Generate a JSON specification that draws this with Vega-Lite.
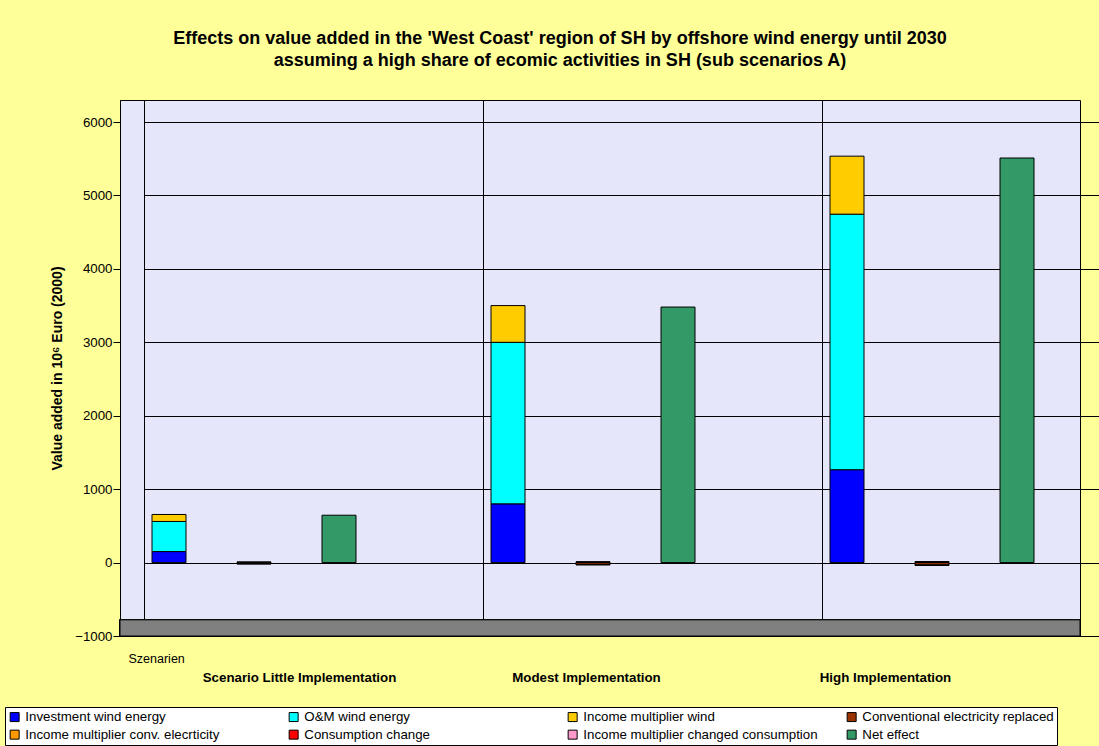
{
  "$schema": "https://vega.github.io/schema/vega-lite/v6.json",
  "width": 960,
  "height": 536,
  "autosize": "none",
  "padding": {"left": 120, "top": 100, "right": 19, "bottom": 110},
  "background": "#FFFF99",
  "config": {
    "font": "Liberation Sans",
    "view": {"stroke": "black", "strokeWidth": 1, "fill": "#E6E6FA"}
  },
  "title": {
    "text": ["Effects on value added in the 'West Coast' region of SH by offshore wind energy until 2030", "assuming a high share of ecomic activities in SH (sub scenarios A)"],
    "fontSize": 18,
    "fontWeight": "bold",
    "font": "Liberation Sans",
    "color": "black",
    "anchor": "middle",
    "dx": -40,
    "offset": 30,
    "lineHeight": 22
  },
  "data": {
    "values": [
      {"scenario": "Scenario Little Implementation", "column": "stack", "component": "Investment wind energy", "idx": 1, "value": 150},
      {"scenario": "Scenario Little Implementation", "column": "stack", "component": "O&M wind energy", "idx": 2, "value": 410},
      {"scenario": "Scenario Little Implementation", "column": "stack", "component": "Income multiplier wind", "idx": 3, "value": 95},
      {"scenario": "Scenario Little Implementation", "column": "neg", "component": "Conventional electricity replaced", "idx": 4, "value": -15},
      {"scenario": "Scenario Little Implementation", "column": "neg", "component": "Income multiplier conv. elecrticity", "idx": 5, "value": -5},
      {"scenario": "Scenario Little Implementation", "column": "neg", "component": "Consumption change", "idx": 6, "value": 5},
      {"scenario": "Scenario Little Implementation", "column": "neg", "component": "Income multiplier changed consumption", "idx": 7, "value": 2},
      {"scenario": "Scenario Little Implementation", "column": "net", "component": "Net effect", "idx": 8, "value": 645},
      {"scenario": "Modest Implementation", "column": "stack", "component": "Investment wind energy", "idx": 1, "value": 800},
      {"scenario": "Modest Implementation", "column": "stack", "component": "O&M wind energy", "idx": 2, "value": 2200},
      {"scenario": "Modest Implementation", "column": "stack", "component": "Income multiplier wind", "idx": 3, "value": 500},
      {"scenario": "Modest Implementation", "column": "neg", "component": "Conventional electricity replaced", "idx": 4, "value": -25},
      {"scenario": "Modest Implementation", "column": "neg", "component": "Income multiplier conv. elecrticity", "idx": 5, "value": -8},
      {"scenario": "Modest Implementation", "column": "neg", "component": "Consumption change", "idx": 6, "value": 8},
      {"scenario": "Modest Implementation", "column": "neg", "component": "Income multiplier changed consumption", "idx": 7, "value": 3},
      {"scenario": "Modest Implementation", "column": "net", "component": "Net effect", "idx": 8, "value": 3480},
      {"scenario": "High Implementation", "column": "stack", "component": "Investment wind energy", "idx": 1, "value": 1265},
      {"scenario": "High Implementation", "column": "stack", "component": "O&M wind energy", "idx": 2, "value": 3480},
      {"scenario": "High Implementation", "column": "stack", "component": "Income multiplier wind", "idx": 3, "value": 790},
      {"scenario": "High Implementation", "column": "neg", "component": "Conventional electricity replaced", "idx": 4, "value": -30},
      {"scenario": "High Implementation", "column": "neg", "component": "Income multiplier conv. elecrticity", "idx": 5, "value": -10},
      {"scenario": "High Implementation", "column": "neg", "component": "Consumption change", "idx": 6, "value": 10},
      {"scenario": "High Implementation", "column": "neg", "component": "Income multiplier changed consumption", "idx": 7, "value": 4},
      {"scenario": "High Implementation", "column": "net", "component": "Net effect", "idx": 8, "value": 5510}
    ]
  },
  "layer": [
    {
      "mark": {"type": "rect", "color": "#808080", "stroke": "black", "strokeWidth": 1},
      "encoding": {
        "y": {"datum": -1000, "type": "quantitative"},
        "y2": {"datum": -780}
      }
    },
    {
      "mark": {"type": "bar", "stroke": "black", "strokeWidth": 1},
      "encoding": {
        "x": {
          "field": "scenario",
          "type": "nominal",
          "sort": ["Scenario Little Implementation", "Modest Implementation", "High Implementation"],
          "scale": {"range": [24, 1041], "paddingInner": 0, "paddingOuter": 0},
          "axis": {
            "title": "Szenarien",
            "titleFont": "Liberation Sans",
            "titleFontSize": 12.5,
            "titleFontWeight": "normal",
            "titleColor": "black",
            "titleAnchor": "start",
            "titleAlign": "left",
            "titleBaseline": "top",
            "titleX": 8,
            "titleY": 16,
            "labelAngle": 0,
            "labelFontWeight": "bold",
            "labelFontSize": 13.3,
            "labelColor": "black",
            "labelPadding": 34,
            "labelLimit": 400,
            "labelOffset": {
              "condition": [
                {"test": "datum.value == 'Scenario Little Implementation'", "value": -14},
                {"test": "datum.value == 'Modest Implementation'", "value": -66}
              ],
              "value": -106
            },
            "ticks": false,
            "domainColor": "black",
            "grid": true,
            "gridColor": "black",
            "gridOpacity": 1,
            "bandPosition": 0
          }
        },
        "xOffset": {
          "field": "column",
          "type": "nominal",
          "sort": ["stack", "neg", "net"],
          "scale": {"domain": ["stack", "neg", "net"], "range": [8, 212], "paddingInner": 0.6, "paddingOuter": 0}
        },
        "y": {
          "field": "value",
          "type": "quantitative",
          "stack": "zero",
          "scale": {"domain": [-1000, 6300], "nice": false, "zero": false},
          "axis": {
            "values": [-1000, 0, 1000, 2000, 3000, 4000, 5000, 6000],
            "format": "d",
            "grid": true,
            "title": "Value added in 10⁶ Euro (2000)",
            "titleFontSize": 14,
            "titleFontWeight": "bold",
            "titleColor": "black",
            "titlePadding": 10,
            "labelFontSize": 13.3,
            "labelColor": "black",
            "labelPadding": 1,
            "tickSize": 7,
            "tickColor": "black",
            "domainColor": "black",
            "gridColor": "black",
            "gridOpacity": 1
          }
        },
        "order": {"field": "idx", "type": "quantitative"},
        "color": {
          "field": "component",
          "type": "nominal",
          "scale": {
            "domain": ["Investment wind energy", "O&M wind energy", "Income multiplier wind", "Conventional electricity replaced", "Income multiplier conv. elecrticity", "Consumption change", "Income multiplier changed consumption", "Net effect"],
            "range": ["#0000FF", "#00FFFF", "#FFCC00", "#993300", "#FF9900", "#FF0000", "#FF99CC", "#339966"]
          },
          "legend": {
            "title": null,
            "orient": "none",
            "legendX": -115,
            "legendY": 607,
            "direction": "horizontal",
            "columns": 4,
            "gridAlign": "all",
            "columnPadding": 27,
            "rowPadding": 3,
            "symbolType": "square",
            "symbolSize": 81,
            "symbolStrokeColor": "black",
            "symbolStrokeWidth": 1,
            "labelFont": "Liberation Sans",
            "labelFontSize": 13.3,
            "labelColor": "black",
            "labelLimit": 320,
            "labelOffset": 4,
            "fillColor": "white",
            "strokeColor": "black",
            "padding": 3
          }
        }
      }
    }
  ]
}
